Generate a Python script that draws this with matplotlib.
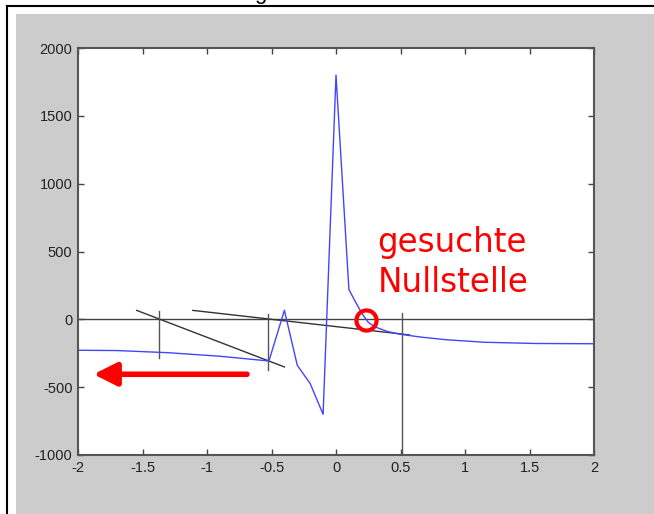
import matplotlib
matplotlib.use("Agg")
import matplotlib.pyplot as plt
from matplotlib.patches import Rectangle
from matplotlib.lines import Line2D

# blue curve f(x)
x_curve = [-2.0, -1.7, -1.3, -0.9, -0.52, -0.4, -0.3, -0.2, -0.1, 0.0,
           0.1, 0.15, 0.2, 0.25, 0.3, 0.4, 0.5, 0.65, 0.85, 1.15, 1.55, 2.0]
y_curve = [-228, -230, -246, -272, -307, 66, -339, -474, -700, 1800,
           220, 130, 45, -22, -55, -90, -110, -130, -150, -169, -178, -180]

# newton construction: tangents and vertical guide lines
tangent1_x = [-1.545, -0.40]
tangent1_y = [66, -351]
tangent2_x = [-1.11, 0.57]
tangent2_y = [66, -115]
vlines_x = [-1.372, -0.53, 0.51]
vlines_top = [59, 42, 44]
vlines_bottom = [-285, -370, -1000]

root_x, root_y = 0.233, -7
label = "gesuchte\nNullstelle"
arrow_tail = (-0.69, -405)
arrow_head = (-1.88, -405)

xticks = [-2, -1.5, -1, -0.5, 0, 0.5, 1, 1.5, 2]
yticks = [-1000, -500, 0, 500, 1000, 1500, 2000]

W, H = 654, 514
fig = plt.figure(figsize=(W / 100, H / 100), dpi=100, facecolor="white")

# gray figure panel and page border
fig.patches.append(Rectangle((16 / W, 0), 1, 1 - 14 / H, transform=fig.transFigure,
                             facecolor="#cccccc", edgecolor="none", zorder=-5))
fig.lines.append(Line2D([7 / W, 7 / W], [0, 1 - 6 / H], transform=fig.transFigure,
                        color="black", lw=1.5, zorder=-4))
fig.lines.append(Line2D([7 / W, 1], [1 - 6 / H, 1 - 6 / H], transform=fig.transFigure,
                        color="black", lw=1.5, zorder=-4))
# bottom of a heading that is cut off by the page edge
fig.text(260 / W, 1 + 1 / H, "g", fontsize=16, ha="center", va="baseline",
         family="Liberation Sans")

ax = fig.add_axes([78 / W, 1 - 455 / H, 516 / W, 407 / H])
ax.set_facecolor("white")
ax.set_xlim(-2, 2)
ax.set_ylim(-1000, 2000)
ax.set_xticks(xticks)
ax.set_yticks(yticks)
ax.set_xticklabels(["-2", "-1.5", "-1", "-0.5", "0", "0.5", "1", "1.5", "2"])
ax.set_yticklabels([str(v) for v in yticks])
ax.tick_params(direction="in", length=4, width=1, color="#444444",
               top=True, right=True, labelsize=10.5, labelcolor="#222222", pad=4)
for lab in ax.get_xticklabels() + ax.get_yticklabels():
    lab.set_family("Liberation Sans")
for sp in ax.spines.values():
    sp.set_color("#555555")
    sp.set_linewidth(1.5)

ax.axhline(0, color="#444444", lw=1)
ax.plot(tangent1_x, tangent1_y, color="#333333", lw=1)
ax.plot(tangent2_x, tangent2_y, color="#333333", lw=1)
for vx, vt, vb in zip(vlines_x, vlines_top, vlines_bottom):
    ax.plot([vx, vx], [vb, vt], color="#555555", lw=1)

ax.plot(x_curve, y_curve, color="#4444ff", lw=1)

ax.plot(root_x, root_y, "o", ms=14.5, mfc="none", mec="red", mew=3)
ax.text(0.32, 685, label, color="red", fontsize=23.5, ha="left", va="top",
        linespacing=1.25, family="DejaVu Sans")
ax.annotate("", xy=arrow_head, xytext=arrow_tail,
            arrowprops=dict(arrowstyle="-|>,head_length=1.4,head_width=0.7",
                            color="red", lw=4, shrinkA=0, shrinkB=0))

fig.savefig("out.png", dpi=100, facecolor="white")
